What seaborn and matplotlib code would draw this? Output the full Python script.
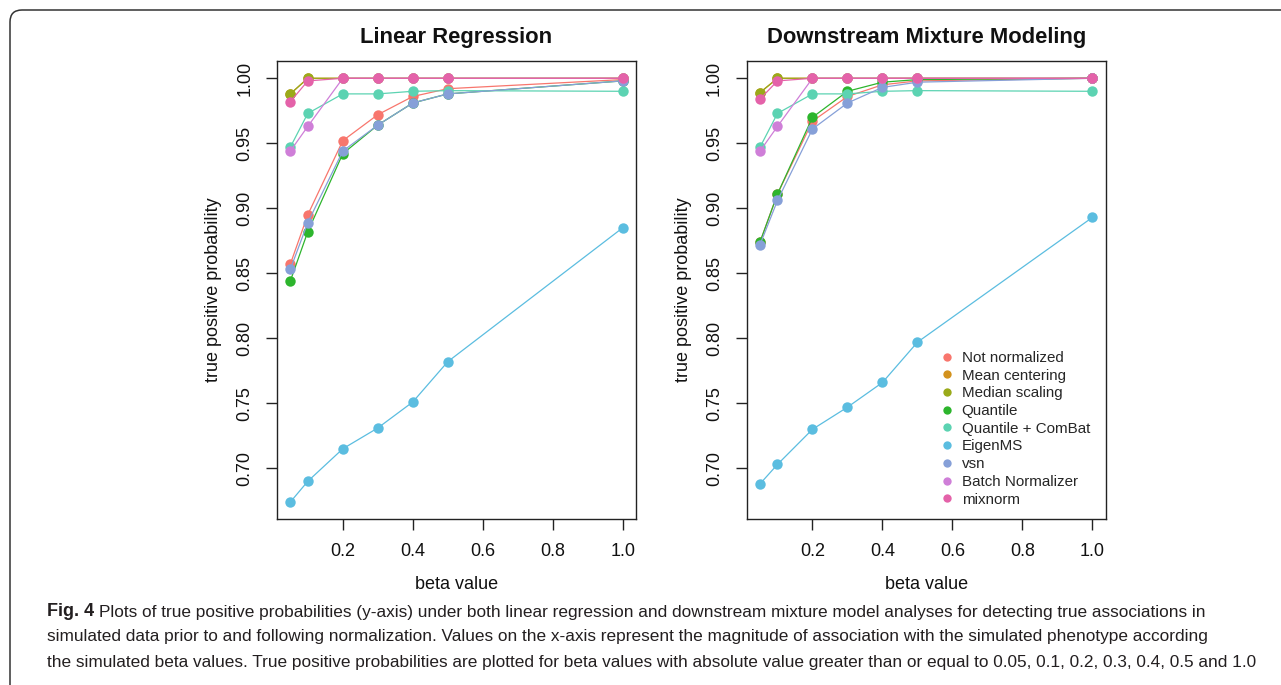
import matplotlib
matplotlib.use('Agg')
import matplotlib.pyplot as plt
from matplotlib.lines import Line2D
from matplotlib.patches import FancyBboxPatch
from matplotlib.transforms import IdentityTransform
import numpy as np
import pandas as pd
import seaborn as sns

# beta values on the x axis
beta = [0.05, 0.1, 0.2, 0.3, 0.4, 0.5, 1.0]

methods = ["Not normalized", "Mean centering", "Median scaling", "Quantile",
           "Quantile + ComBat", "EigenMS", "vsn", "Batch Normalizer", "mixnorm"]

colors = ["#F8766D", "#D3921D", "#9AAA1A", "#2DB52D", "#5CD3B2",
          "#5BBDE0", "#86A0D8", "#CF7FD8", "#E462A9"]

# Linear Regression
lr_not_norm = [0.857, 0.895, 0.952, 0.972, 0.986, 0.992, 0.999]
lr_mean = [0.988, 1.0, 1.0, 1.0, 1.0, 1.0, 1.0]
lr_median = [0.988, 1.0, 1.0, 1.0, 1.0, 1.0, 1.0]
lr_quantile = [0.844, 0.882, 0.942, 0.964, 0.981, 0.988, 0.998]
lr_qcombat = [0.947, 0.973, 0.988, 0.988, 0.990, 0.9905, 0.990]
lr_eigenms = [0.674, 0.690, 0.715, 0.731, 0.751, 0.782, 0.885]
lr_vsn = [0.853, 0.889, 0.944, 0.964, 0.981, 0.988, 0.998]
lr_batch = [0.944, 0.963, 1.0, 1.0, 1.0, 1.0, 1.0]
lr_mixnorm = [0.982, 0.998, 1.0, 1.0, 1.0, 1.0, 1.0]

# Downstream Mixture Modeling
dm_not_norm = [0.874, 0.911, 0.967, 0.986, 0.995, 0.998, 1.0]
dm_mean = [0.989, 1.0, 1.0, 1.0, 1.0, 1.0, 1.0]
dm_median = [0.989, 1.0, 1.0, 1.0, 1.0, 1.0, 1.0]
dm_quantile = [0.874, 0.911, 0.970, 0.990, 0.997, 0.999, 1.0]
dm_qcombat = [0.947, 0.973, 0.988, 0.988, 0.990, 0.9905, 0.990]
dm_eigenms = [0.688, 0.703, 0.730, 0.747, 0.766, 0.797, 0.893]
dm_vsn = [0.872, 0.906, 0.961, 0.981, 0.993, 0.997, 1.0]
dm_batch = [0.944, 0.963, 1.0, 1.0, 1.0, 1.0, 1.0]
dm_mixnorm = [0.984, 0.998, 1.0, 1.0, 1.0, 1.0, 1.0]

lr_series = [lr_not_norm, lr_mean, lr_median, lr_quantile, lr_qcombat,
             lr_eigenms, lr_vsn, lr_batch, lr_mixnorm]
dm_series = [dm_not_norm, dm_mean, dm_median, dm_quantile, dm_qcombat,
             dm_eigenms, dm_vsn, dm_batch, dm_mixnorm]

caption_lines = [
    "Plots of true positive probabilities (y-axis) under both linear regression and downstream mixture model analyses for detecting true associations in",
    "simulated data prior to and following normalization. Values on the x-axis represent the magnitude of association with the simulated phenotype according",
    "the simulated beta values. True positive probabilities are plotted for beta values with absolute value greater than or equal to 0.05, 0.1, 0.2, 0.3, 0.4, 0.5 and 1.0",
]


def to_long(series):
    rows = []
    for m, vals in zip(methods, series):
        for b, v in zip(beta, vals):
            rows.append((m, b, v))
    return pd.DataFrame(rows, columns=["method", "beta", "tpp"])


sns.set_style("white")
plt.rcParams['font.family'] = ['Liberation Sans', 'DejaVu Sans']

palette = dict(zip(methods, colors))

fig = plt.figure(figsize=(12.81, 6.85), dpi=100)
ax1 = fig.add_axes([277 / 1281, 1 - 519 / 685, 359 / 1281, 458 / 685])
ax2 = fig.add_axes([746.7 / 1281, 1 - 519 / 685, 359 / 1281, 458 / 685])

for ax, series, title in [(ax1, lr_series, "Linear Regression"),
                          (ax2, dm_series, "Downstream Mixture Modeling")]:
    df = to_long(series)
    sns.lineplot(data=df, x="beta", y="tpp", hue="method", hue_order=methods,
                 palette=palette, marker="o", markersize=7.5, markeredgewidth=0,
                 linewidth=0.9, legend=False, ax=ax)
    ax.set_xlim(0.012, 1.038)
    ax.set_ylim(0.661, 1.0133)
    ax.set_xticks([0.2, 0.4, 0.6, 0.8, 1.0])
    ax.set_xticklabels(["0.2", "0.4", "0.6", "0.8", "1.0"])
    ax.set_yticks([0.70, 0.75, 0.80, 0.85, 0.90, 0.95, 1.00])
    ax.set_yticklabels(["0.70", "0.75", "0.80", "0.85", "0.90", "0.95", "1.00"],
                       rotation=90, va="center")
    ax.tick_params(axis="both", direction="out", length=8, width=1,
                   color="#222222", labelsize=13, pad=9, labelcolor="#111111",
                   bottom=True, left=True)
    for s in ax.spines.values():
        s.set_color("#222222")
        s.set_linewidth(1.0)
    ax.set_xlabel("beta value", fontsize=13, labelpad=12, color="#111111")
    ax.set_ylabel("true positive probability", fontsize=13, labelpad=10,
                  color="#111111")
    ax.set_title(title, fontsize=15.8, fontweight="bold", pad=13, color="#111111")

handles = [Line2D([], [], linestyle="none", marker="o", markersize=6,
                  markeredgewidth=0, color=c) for c in colors]
ax2.legend(handles, methods, loc="upper left", bbox_to_anchor=(0.542, 0.367),
           frameon=False, fontsize=10.9, handlelength=0.8, handletextpad=0.55,
           labelspacing=0.245, borderpad=0, borderaxespad=0)

# rounded frame round the figure
frame = FancyBboxPatch((10, -30), 1320, 675 + 30, boxstyle="round,pad=0,rounding_size=12",
                       transform=IdentityTransform(), facecolor="none",
                       edgecolor="#333333", linewidth=1.1)
fig.add_artist(frame)

# caption
cap_size = 12.4
renderer = fig.canvas.get_renderer()
cap_y = [1 - 612 / 685, 1 - 637 / 685, 1 - 662 / 685]
fig_lbl = fig.text(47 / 1281, cap_y[0], "Fig. 4", fontsize=cap_size + 0.6,
                   fontweight="bold", va="center", color="#231f20")
bb = fig_lbl.get_window_extent(renderer)
fig.text((bb.x1 + 5) / 1281, cap_y[0], caption_lines[0],
         fontsize=cap_size, va="center", color="#231f20")
fig.text(47 / 1281, cap_y[1], caption_lines[1],
         fontsize=cap_size, va="center", color="#231f20")
fig.text(47 / 1281, cap_y[2], caption_lines[2],
         fontsize=cap_size, va="center", color="#231f20")

fig.savefig("out.png", dpi=100)
